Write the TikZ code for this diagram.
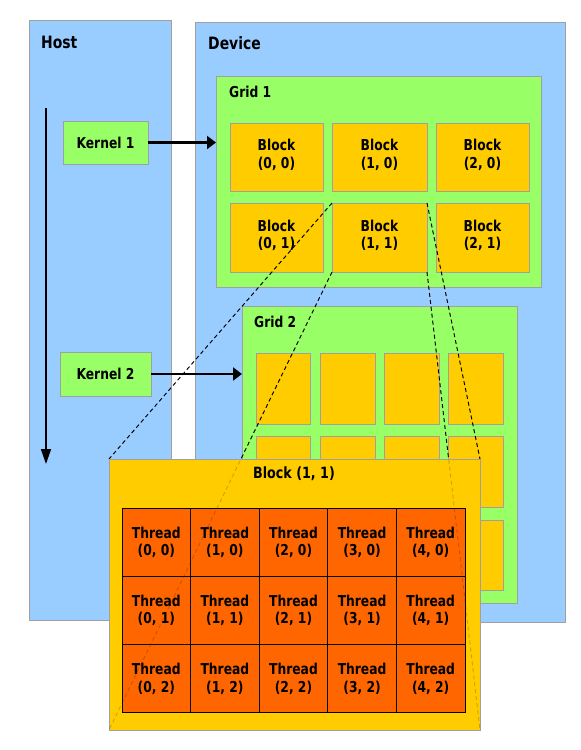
\documentclass[tikz,border=0pt]{standalone}
\usepackage{fontspec}
\setmainfont{DejaVu Sans}[FakeStretch=0.82]
\usetikzlibrary{arrows.meta}
\definecolor{hostblue}{HTML}{99CCFF}
\definecolor{gridgreen}{HTML}{99FF66}
\definecolor{blockyellow}{HTML}{FFCC00}
\definecolor{threadorange}{HTML}{FF6600}
\definecolor{edgegray}{HTML}{A0A0A0}
\begin{document}
\begin{tikzpicture}[x=1pt,y=-1pt,
  rectbox/.style={draw=edgegray, line width=1pt, anchor=north west, inner sep=0pt, outer sep=0pt},
  panel/.style={rectbox, fill=hostblue},
  gridbox/.style={rectbox, fill=gridgreen},
  blockbox/.style={rectbox, fill=blockyellow, align=center, font=\fontsize{15}{17.5}\selectfont\bfseries},
  kernelbox/.style={draw=edgegray, line width=1pt, fill=gridgreen, inner sep=0pt, outer sep=0pt, font=\fontsize{15}{17.5}\selectfont\bfseries},
  threadbox/.style={draw=black, line width=1pt, fill=threadorange, anchor=north west, inner sep=0pt, outer sep=0pt, align=center, font=\fontsize{15}{17.5}\selectfont\bfseries},
  bigtitle/.style={font=\fontsize{17}{19}\selectfont\bfseries, inner sep=0pt, anchor=west},
  gridtitle/.style={font=\fontsize{15}{17}\selectfont\bfseries, inner sep=0pt, anchor=west},
  karrow/.style={line width=2.2pt, -{Triangle[length=9pt,width=13pt]}},
  timearrow/.style={line width=1.5pt, -{Triangle[length=15pt,width=10pt]}},
  guide/.style={draw=black, line width=0.9pt, dash pattern=on 4pt off 3pt},
  faintguide/.style={guide, draw opacity=0.2}
]
\useasboundingbox (0,0) rectangle (581,750);

% Host and Device
\node[panel, minimum width=142, minimum height=600] (host) at (29,20) {};
\node[panel, minimum width=370, minimum height=600] (device) at (195,22) {};
\node[bigtitle] (hostlabel) at (41,42) {Host};
\node[bigtitle] (devicelabel) at (208,43) {Device};

% Time arrow
\coordinate (tstart) at (46,108);
\coordinate (tend) at (46,464);
\draw[timearrow] (tstart) -- (tend);

% Kernels
\node[kernelbox, minimum width=85, minimum height=43] (kernel1) at (105.5,142.5) {Kernel 1};
\node[kernelbox, minimum width=91, minimum height=44] (kernel2) at (105.5,374) {Kernel 2};

% Grid 1
\node[gridbox, minimum width=325, minimum height=211] (grid1) at (216,76) {};
\node[gridtitle] (grid1label) at (229,92) {Grid 1};
\foreach \c/\xa/\xb in {0/230/323,1/332/427,2/436/529}
  \foreach \r/\ya/\yb in {0/123/191,1/203/272}
    \node[blockbox, minimum width=\xb-\xa, minimum height=\yb-\ya] (g1b\c\r) at (\xa,\ya) {Block\\(\c, \r)\rule[-6pt]{0pt}{6pt}};

% Grid 2
\node[gridbox, minimum width=275, minimum height=297] (grid2) at (242,306) {};
\node[gridtitle] (grid2label) at (254,322) {Grid 2};
\foreach \c/\xa/\xb in {0/256/310,1/320/375,2/384/439,3/448/503}
  \foreach \r/\ya/\yb in {0/353/424,1/436/507,2/520/590}
    \node[blockbox, minimum width=\xb-\xa, minimum height=\yb-\ya] (g2b\c\r) at (\xa,\ya) {};

% Kernel arrows
\draw[karrow] (kernel1.east) -- (grid1.west |- kernel1.east);
\draw[karrow] (kernel2.east) -- (grid2.west |- kernel2.east);

% Guide lines from Block (1,1) of Grid 1 to the enlarged block
\node[blockbox, minimum width=371, minimum height=271, fill=none, draw=none] (bigframe) at (109,459) {};
\draw[guide] (g1b11.north west) -- (bigframe.north west);
\draw[guide] (g1b11.south west) -- (bigframe.south west);
\draw[guide] (g1b11.north east) -- (bigframe.north east);
\draw[guide] (g1b11.south east) -- (bigframe.south east);

% Big block (1,1)
\node[blockbox, minimum width=371, minimum height=271] (big) at (109,459) {};
\node[gridtitle, font=\fontsize{15.5}{17}\selectfont\bfseries, anchor=center] (biglabel) at (294,474) {Block (1, 1)};

% Threads
\foreach \c in {0,...,4}
  \foreach \r in {0,1,2}
    \node[threadbox, minimum width=68.6, minimum height=68.33] (t\c\r) at ({122+68.6*\c},{508+68.33*\r}) {Thread\\(\c, \r)};

% Faint guide lines seen through the enlarged block
\draw[faintguide] (g1b11.north west) -- (big.north west);
\draw[faintguide] (g1b11.south west) -- (big.south west);
\draw[faintguide] (g1b11.north east) -- (big.north east);
\draw[faintguide] (g1b11.south east) -- (big.south east);

\end{tikzpicture}
\end{document}
